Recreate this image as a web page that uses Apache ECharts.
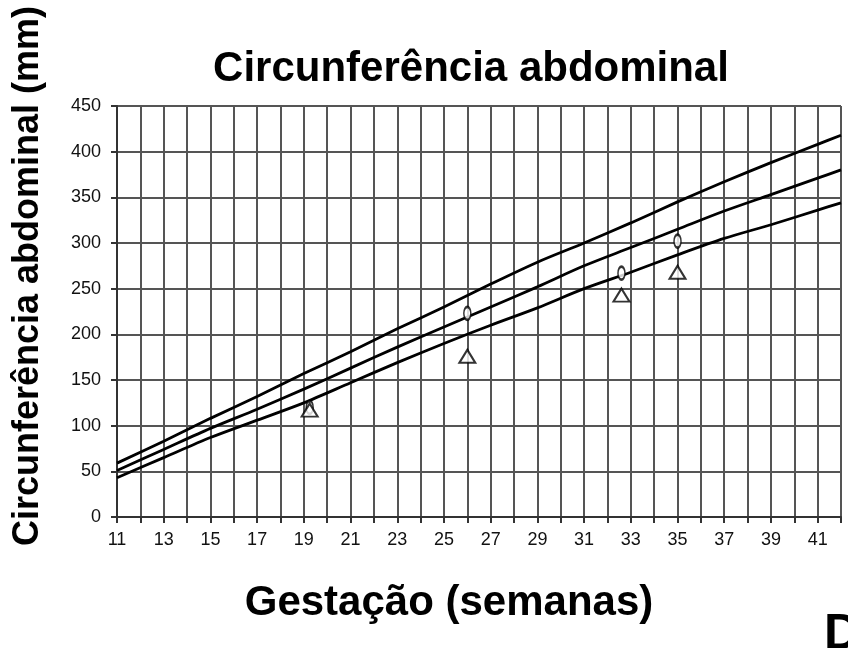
<!DOCTYPE html>
<html>
<head>
<meta charset="utf-8">
<script src="https://cdn.jsdelivr.net/npm/echarts@6/dist/echarts.min.js"></script>
<style>
  html, body { margin: 0; padding: 0; background: #fff; }
  #chart { width: 848px; height: 648px; }
</style>
</head>
<body>
<div id="chart"></div>
<script>
// semanas de gestação
const weeks = [11, 13, 15, 17, 19, 21, 23, 25, 27, 29, 31, 33, 35, 37, 39, 41, 42]
const upper = [59, 83, 108, 132, 157, 181, 206, 230, 255, 279, 300, 322, 345, 367, 388, 408, 418]
const middle = [51, 74, 97, 118, 140, 163, 186, 208, 230, 252, 275, 295, 315, 335, 353, 371, 380]
const lower = [43, 65, 87, 106, 125, 147, 169, 190, 210, 229, 250, 268, 287, 305, 320, 336, 344]

// medidas do feto
const circleWeeks = [19.25, 26, 32.6, 35]
const circleValues = [120, 223, 267, 302]
const triangleWeeks = [19.25, 26, 32.6, 35]
const triangleValues = [117, 176, 243, 268]

const pair = (xs, ys) => xs.map((x, i) => [x, ys[i]])

const chart = echarts.init(document.getElementById('chart'))

const lineSeries = (data) => ({
  type: 'line',
  data: pair(weeks, data),
  smooth: 0.3,
  symbol: 'none',
  lineStyle: { color: '#000', width: 2.8 },
  z: 3
})

const labelFont = '"Liberation Sans", Arial, sans-serif'

chart.setOption({
  animation: false,
  grid: { left: 117, right: 7, top: 106, bottom: 131 },
  graphic: [
    {
      type: 'text', x: 471, y: 69,
      style: { text: 'Circunferência abdominal', font: 'bold 42px "Liberation Sans", Arial', fill: '#000', align: 'center', verticalAlign: 'middle' }
    },
    {
      type: 'text', x: 449, y: 603,
      style: { text: 'Gestação (semanas)', font: 'bold 42px "Liberation Sans", Arial', fill: '#000', align: 'center', verticalAlign: 'middle' }
    },
    {
      type: 'text', x: 28, y: 276, rotation: Math.PI / 2,
      style: { text: 'Circunferência abdominal (mm)', font: 'bold 36px "Liberation Sans", Arial', fill: '#000', align: 'center', verticalAlign: 'middle' }
    },
    {
      type: 'text', x: 824, y: 610,
      style: { text: 'D', font: 'bold 50px "Liberation Sans", Arial', fill: '#000' }
    }
  ],
  xAxis: {
    type: 'value',
    min: 11,
    max: 42,
    interval: 1,
    axisLine: { lineStyle: { color: '#333', width: 2 } },
    axisTick: { show: true, length: 6, lineStyle: { color: '#333', width: 2 } },
    axisLabel: {
      margin: 14,
      fontFamily: labelFont,
      fontSize: 18,
      color: '#111',
      formatter: (v) => (v % 2 === 1 ? String(v) : '')
    },
    splitLine: { show: true, lineStyle: { color: '#555', width: 2 } }
  },
  yAxis: {
    type: 'value',
    min: 0,
    max: 450,
    interval: 50,
    axisLine: { show: true, lineStyle: { color: '#333', width: 2 } },
    axisTick: { show: true, length: 6, lineStyle: { color: '#333', width: 2 } },
    axisLabel: {
      margin: 16,
      fontFamily: labelFont,
      fontSize: 18,
      color: '#111'
    },
    splitLine: { show: true, lineStyle: { color: '#555', width: 2 } }
  },
  series: [
    lineSeries(upper),
    lineSeries(middle),
    lineSeries(lower),
    {
      type: 'scatter',
      data: pair(circleWeeks, circleValues),
      symbol: 'circle',
      symbolSize: [7, 13],
      itemStyle: { color: '#fff', borderColor: '#000', borderWidth: 2 },
      z: 4
    },
    {
      type: 'scatter',
      data: pair(triangleWeeks, triangleValues),
      symbol: 'triangle',
      symbolSize: [16, 13],
      itemStyle: { color: '#fff', borderColor: '#000', borderWidth: 2 },
      z: 4
    }
  ]
})
</script>
</body>
</html>
